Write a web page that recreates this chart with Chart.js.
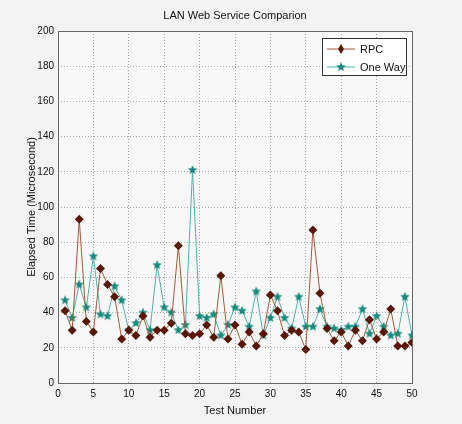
<!DOCTYPE html>
<html>
<head>
<meta charset="utf-8">
<script src="https://cdn.jsdelivr.net/npm/chart.js@4/dist/chart.umd.min.js"></script>
<style>
html,body{margin:0;padding:0;background:#f3f3f3;}
#wrap{width:462px;height:424px;position:relative;}
</style>
</head>
<body>
<div id="wrap"><canvas id="c" width="462" height="424"></canvas></div>
<script>
const chartTitle = "LAN Web Service Comparion";
const xTitle = "Test Number";
const yTitle = "Elapsed Time (Microsecond)";
const seriesNames = ["RPC", "One Way"];
const testNumbers = [1,2,3,4,5,6,7,8,9,10,11,12,13,14,15,16,17,18,19,20,21,22,23,24,25,26,27,28,29,30,31,32,33,34,35,36,37,38,39,40,41,42,43,44,45,46,47,48,49,50];
const rpcValues = [41,30,93,35,29,65,56,49,25,30,27,38,26,30,30,34,78,28,27,28,33,26,61,25,33,22,29,21,28,50,41,27,30,29,19,87,51,31,24,29,21,30,24,36,25,29,42,21,21,23];
const oneWayValues = [47,37,56,43,72,39,38,55,47,30,34,40,30,67,43,40,30,33,121,38,37,39,27,33,43,41,32,52,27,37,49,37,31,49,32,32,42,32,31,30,32,32,42,28,38,32,27,28,49,27];
const xTicks = {min:0, max:50, step:5};
const yTicks = {min:0, max:200, step:20};

const rpcLine = "#a65a36", rpcMarker = "#5a1606";
const owLine = "#4db3aa", owMarker = "#168a7c";

function makeStar(r, color){
  const c = document.createElement('canvas');
  const s = Math.ceil(r*2+2);
  c.width = s; c.height = s;
  const g = c.getContext('2d');
  g.fillStyle = color;
  g.beginPath();
  for(let i=0;i<10;i++){
    const rad = i%2===0 ? r : r*0.45;
    const a = -Math.PI/2 + i*Math.PI/5;
    const px = s/2 + rad*Math.cos(a), py = s/2 + rad*Math.sin(a);
    if(i===0) g.moveTo(px,py); else g.lineTo(px,py);
  }
  g.closePath(); g.fill();
  return c;
}
const starImg = makeStar(5, owMarker);

const bgPlugin = {
  id:'bg',
  beforeDraw(chart){
    const {ctx, chartArea:a} = chart;
    ctx.save();
    ctx.fillStyle = "#f3f3f3";
    ctx.fillRect(0,0,chart.width,chart.height);
    ctx.fillStyle = "#f8f8f8";
    ctx.fillRect(a.left,a.top,a.right-a.left,a.bottom-a.top);
    ctx.restore();
  },
  afterDraw(chart){
    const {ctx, chartArea:a} = chart;
    ctx.save();
    // axis box
    ctx.strokeStyle = "#666"; ctx.lineWidth = 1; ctx.setLineDash([]);
    ctx.strokeRect(Math.round(a.left)+0.5, Math.round(a.top)+0.5, Math.round(a.right-a.left), Math.round(a.bottom-a.top));
    // title
    ctx.fillStyle = "#111";
    ctx.font = "11px 'Liberation Sans', Arial, sans-serif";
    ctx.textAlign = "center"; ctx.textBaseline = "middle";
    ctx.fillText(chartTitle, (a.left+a.right)/2, 16);
    // legend box
    const lx = 322, ly = 38, lw = 84, lh = 37;
    ctx.fillStyle = "#ffffff";
    ctx.fillRect(lx,ly,lw,lh);
    ctx.strokeStyle = "#333"; ctx.lineWidth = 1;
    ctx.strokeRect(lx+0.5,ly+0.5,lw,lh);
    const rows = [[seriesNames[0], rpcLine, 'd', 49],[seriesNames[1], owLine, 's', 67]];
    rows.forEach(([name, col, m, y])=>{
      ctx.strokeStyle = col; ctx.lineWidth = 1;
      ctx.beginPath(); ctx.moveTo(327,y); ctx.lineTo(355,y); ctx.stroke();
      if(m==='d'){
        ctx.fillStyle = rpcMarker;
        ctx.beginPath(); ctx.moveTo(341,y-5); ctx.lineTo(344,y); ctx.lineTo(341,y+5); ctx.lineTo(338,y); ctx.closePath(); ctx.fill();
      } else {
        ctx.drawImage(starImg, 341-starImg.width/2, y-starImg.height/2);
      }
      ctx.fillStyle = "#111";
      ctx.font = "11px 'Liberation Sans', Arial, sans-serif";
      ctx.textAlign = "left"; ctx.textBaseline = "middle";
      ctx.fillText(name, 360, y+1);
    });
    ctx.restore();
  }
};

const fontSpec = {family:"'Liberation Sans', Arial, sans-serif", size:10};
const titleFont = {family:"'Liberation Sans', Arial, sans-serif", size:11};

new Chart(document.getElementById('c'), {
  type:'line',
  data:{
    datasets:[
      {
        label:seriesNames[0],
        data: testNumbers.map((x,i)=>({x, y:rpcValues[i]})),
        borderColor: rpcLine, borderWidth:1,
        pointStyle:'rectRot', pointRadius:4.5,
        pointBackgroundColor: rpcMarker, pointBorderColor: rpcMarker, pointBorderWidth:0,
        tension:0
      },
      {
        label:seriesNames[1],
        data: testNumbers.map((x,i)=>({x, y:oneWayValues[i]})),
        borderColor: owLine, borderWidth:1,
        pointStyle: starImg, pointRadius:5,
        pointBackgroundColor: owMarker, pointBorderColor: owMarker,
        tension:0
      }
    ]
  },
  options:{
    responsive:false,
    animation:false,
    events:[],
    layout:{padding:{left:0, right:50, top:31, bottom:0}},
    plugins:{legend:{display:false}, title:{display:false}, tooltip:{enabled:false}},
    scales:{
      x:{
        type:'linear', min:xTicks.min, max:xTicks.max,
        ticks:{stepSize:xTicks.step, color:"#111", font:fontSpec, padding:5, maxRotation:0},
        grid:{color:"#a8a8a8", tickLength:0, drawTicks:false},
        border:{display:false, dash:[1,2]},
        title:{display:true, text:xTitle, color:"#111", font:titleFont, padding:{top:2,bottom:6}},
        afterFit(s){ s.height = 41; }
      },
      y:{
        min:yTicks.min, max:yTicks.max,
        ticks:{stepSize:yTicks.step, color:"#111", font:fontSpec, padding:4},
        grid:{color:"#a8a8a8", tickLength:0, drawTicks:false},
        border:{display:false, dash:[1,2]},
        title:{display:true, text:yTitle, color:"#111", font:titleFont, padding:{top:25,bottom:0}},
        afterFit(s){ s.width = 58; }
      }
    }
  },
  plugins:[bgPlugin]
});
</script>
</body>
</html>
